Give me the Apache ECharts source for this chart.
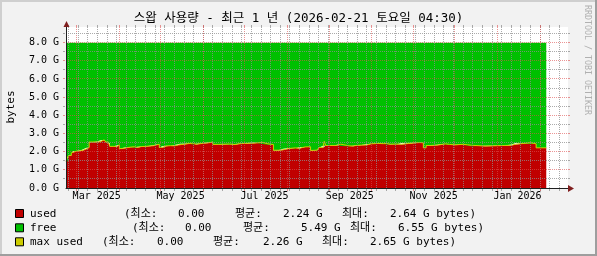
<!DOCTYPE html>
<html><head><meta charset="utf-8">
<script src="https://cdn.jsdelivr.net/npm/echarts@6/dist/echarts.min.js"></script>
<style>html,body{margin:0;padding:0;background:#f2f2f2}#c{width:597px;height:256px}</style>
</head><body><div id="c"></div>
<script>
// ---------------- data ----------------
const titleText = '스왑 사용량 - 최근 1 년 (2026-02-21 토요일 04:30)';
const yAxisName = 'bytes';
const watermark = 'RRDTOOL / TOBI OETIKER';
const timeStart = '2025-02-21 04:30';
const timeEnd = '2026-02-21 04:30';

const dates = [
 '2025-02-21 04:30','2025-02-22','2025-02-23','2025-02-25','2025-02-26',
 '2025-03-01','2025-03-04','2025-03-06','2025-03-08','2025-03-10','2025-03-15','2025-03-18','2025-03-19','2025-03-21','2025-03-22','2025-03-24','2025-03-25','2025-03-28','2025-03-30',
 '2025-04-01','2025-04-03','2025-04-06','2025-04-09','2025-04-12','2025-04-14','2025-04-17','2025-04-20','2025-04-23','2025-04-26','2025-04-28','2025-04-30',
 '2025-05-02','2025-05-05','2025-05-08','2025-05-11','2025-05-14','2025-05-15','2025-05-22','2025-05-24','2025-05-27','2025-05-30',
 '2025-06-01','2025-06-05','2025-06-08','2025-06-12','2025-06-17','2025-06-20','2025-06-24','2025-06-27','2025-06-30',
 '2025-07-08','2025-07-14','2025-07-18','2025-07-22','2025-07-26','2025-07-29',
 '2025-08-02','2025-08-07','2025-08-10','2025-08-14','2025-08-18','2025-08-20','2025-08-23','2025-08-24','2025-08-27','2025-08-28','2025-08-29',
 '2025-09-05','2025-09-07','2025-09-09','2025-09-15','2025-09-18','2025-09-20','2025-09-24','2025-09-28',
 '2025-10-01','2025-10-06','2025-10-10','2025-10-12','2025-10-15','2025-10-19','2025-10-23',
 '2025-11-03','2025-11-05','2025-11-08','2025-11-10','2025-11-13','2025-11-18','2025-11-21','2025-11-24','2025-11-27',
 '2025-12-01','2025-12-04','2025-12-07','2025-12-10','2025-12-13','2025-12-23',
 '2026-01-06','2026-01-11','2026-01-14','2026-01-25','2026-01-29',
 '2026-02-05 09:00'
];
// GB
const used = [
 1.45,1.62,1.78,1.92,2.02,
 2.04,2.08,2.14,2.22,2.52,2.54,2.60,2.64,2.60,2.52,2.48,2.28,2.27,2.37,
 2.16,2.20,2.24,2.26,2.22,2.27,2.28,2.30,2.32,2.36,2.40,2.22,
 2.30,2.32,2.31,2.36,2.42,2.44,2.45,2.40,2.43,2.45,
 2.48,2.52,2.39,2.40,2.41,2.38,2.42,2.44,2.46,
 2.50,2.42,2.38,2.07,2.09,2.16,
 2.20,2.18,2.25,2.26,2.06,2.08,2.14,2.22,2.33,2.33,2.33,
 2.35,2.40,2.31,2.30,2.33,2.35,2.36,2.42,
 2.44,2.43,2.44,2.40,2.41,2.40,2.48,
 2.49,2.48,2.20,2.33,2.35,2.38,2.42,2.39,2.36,
 2.38,2.39,2.37,2.34,2.30,2.33,
 2.34,2.40,2.48,2.42,2.20,
 2.20
];
const free = [
 6.55,6.38,6.22,6.08,5.98,
 5.96,5.92,5.86,5.78,5.48,5.46,5.40,5.36,5.40,5.48,5.52,5.72,5.73,5.63,
 5.84,5.80,5.76,5.74,5.78,5.73,5.72,5.70,5.68,5.64,5.60,5.78,
 5.70,5.68,5.69,5.64,5.58,5.56,5.55,5.60,5.57,5.55,
 5.52,5.48,5.61,5.60,5.59,5.62,5.58,5.56,5.54,
 5.50,5.58,5.62,5.93,5.91,5.84,
 5.80,5.82,5.75,5.74,5.94,5.92,5.86,5.78,5.67,5.67,5.67,
 5.65,5.60,5.69,5.70,5.67,5.65,5.64,5.58,
 5.56,5.57,5.56,5.60,5.59,5.60,5.52,
 5.51,5.52,5.80,5.67,5.65,5.62,5.58,5.61,5.64,
 5.62,5.61,5.63,5.66,5.70,5.67,
 5.66,5.60,5.52,5.58,5.80,
 5.80
];
const maxUsed = [
 1.46,1.63,1.79,1.93,2.03,
 2.05,2.09,2.15,2.23,2.53,2.55,2.61,2.65,2.61,2.53,2.49,2.29,2.28,2.38,
 2.17,2.21,2.25,2.27,2.23,2.28,2.29,2.31,2.33,2.37,2.41,2.23,
 2.31,2.33,2.32,2.37,2.43,2.45,2.46,2.41,2.44,2.46,
 2.49,2.53,2.40,2.41,2.42,2.39,2.43,2.45,2.47,
 2.51,2.43,2.39,2.08,2.10,2.17,
 2.21,2.19,2.26,2.27,2.07,2.09,2.15,2.23,2.34,2.57,2.34,
 2.36,2.41,2.32,2.31,2.34,2.36,2.37,2.43,
 2.45,2.44,2.45,2.41,2.42,2.41,2.49,
 2.50,2.49,2.21,2.34,2.36,2.39,2.43,2.40,2.37,
 2.39,2.40,2.38,2.35,2.31,2.34,
 2.35,2.41,2.49,2.43,2.21,
 2.21
];

const monthStarts = ['2025-03-01 00:00','2025-04-01 00:00','2025-05-01 00:00','2025-06-01 00:00','2025-07-01 00:00','2025-08-01 00:00','2025-09-01 00:00','2025-10-01 00:00','2025-11-01 00:00','2025-12-01 00:00','2026-01-01 00:00','2026-02-01 00:00'];
const firstWeekLine = '2025-02-23 00:00';
const xLabelDates = ['2025-03-15 12:00','2025-05-15 12:00','2025-07-15 12:00','2025-09-15 12:00','2025-11-15 12:00','2026-01-15 12:00'];
const xLabels = ['Mar 2025','May 2025','Jul 2025','Sep 2025','Nov 2025','Jan 2026'];
const yTicks = [0,1,2,3,4,5,6,7,8];
const yMinorTicks = [0.5,1.5,2.5,3.5,4.5,5.5,6.5,7.5,8.5];
const yMax = 8.86;

const legendNames = ['used','free','max used'];
const legendStats = [
 ['(최소:','0.00','평균:','2.24 G','최대:','2.64 G bytes)'],
 ['(최소:','0.00','평균:','5.49 G','최대:','6.55 G bytes)'],
 ['(최소:','0.00','평균:','2.26 G','최대:','2.65 G bytes)']
];

// ---------------- layout / style ----------------
const COL_USED = '#c00000', COL_FREE = '#00c000', COL_MAX = '#cccc00';
const MONO = "'DejaVu Sans Mono','Noto Sans CJK KR',monospace";
const MINOR = 'rgba(143,143,143,0.75)', MAJOR = 'rgba(222,79,79,0.6)';
const legendRowY = [214, 228.3, 242.3];
const legendColX = [
 [124,178,235,283,342,390],
 [132,185,243,301,350,398],
 [102,157,213,263,322,370]
];
const legendColors = [COL_USED, COL_FREE, COL_MAX];

const P = s => echarts.time.parse(s).getTime();
const tStart = P(timeStart), tEnd = P(timeEnd);
const weekLines = [];
for (let t = P(firstWeekLine); t < tEnd; t += 7*86400000) weekLines.push(t);
const xLabelTs = xLabelDates.map(P);

// grid line data: [value, kind] kind 0 = minor, 1 = major
const vGrid = weekLines.map(t => [t, 0]).concat(monthStarts.map(s => [P(s), 1]));
const hGrid = yMinorTicks.map(v => [tStart, v, 0]).concat(yTicks.slice(1).map(v => [tStart, v, 1]));

function vGridItem(params, api) {
  const cs = params.coordSys;
  const x = Math.floor(api.coord([api.value(0), 0])[0]) + 0.5;
  const c = api.value(1) === 1 ? MAJOR : MINOR;
  const top = cs.y, bot = cs.y + cs.height;
  return {type: 'group', children: [
    {type: 'line', shape: {x1: x, y1: top, x2: x, y2: bot}, style: {stroke: c, lineWidth: 1, lineDash: [1, 1]}},
    {type: 'line', shape: {x1: x, y1: bot + 1, x2: x, y2: bot + 3}, style: {stroke: c, lineWidth: 1}},
    {type: 'line', shape: {x1: x, y1: top - 2, x2: x, y2: top}, style: {stroke: c, lineWidth: 1}}
  ]};
}
function hGridItem(params, api) {
  const cs = params.coordSys;
  const y = Math.floor(api.coord([api.value(0), api.value(1)])[1]) + 0.5;
  const c = api.value(2) === 1 ? MAJOR : MINOR;
  const l = cs.x, r = cs.x + cs.width;
  return {type: 'group', children: [
    {type: 'line', shape: {x1: l, y1: y, x2: r, y2: y}, style: {stroke: c, lineWidth: 1, lineDash: [1, 1]}},
    {type: 'line', shape: {x1: l - 3, y1: y, x2: l - 1, y2: y}, style: {stroke: c, lineWidth: 1}},
    {type: 'line', shape: {x1: r, y1: y, x2: r + 2, y2: y}, style: {stroke: c, lineWidth: 1}}
  ]};
}

const graphics = [
 {type:'rect', shape:{x:0,y:0,width:597,height:2}, style:{fill:'#cfcfcf'}, z:0},
 {type:'rect', shape:{x:0,y:0,width:2,height:256}, style:{fill:'#cfcfcf'}, z:0},
 {type:'rect', shape:{x:0,y:254,width:597,height:2}, style:{fill:'#9e9e9e'}, z:0},
 {type:'rect', shape:{x:595,y:0,width:2,height:256}, style:{fill:'#9e9e9e'}, z:0},
 {type:'text', x:11, y:107, rotation:Math.PI/2, style:{text:yAxisName, font:'11px '+MONO, fill:'#000', align:'center', verticalAlign:'middle'}},
 {type:'text', x:587.5, y:60, rotation:-Math.PI/2, style:{text:watermark, font:'8.3px '+MONO, fill:'#b0b0b0', align:'center', verticalAlign:'middle'}},
 {type:'line', shape:{x1:566,y1:188.5,x2:570,y2:188.5}, style:{stroke:'#1f1f1f', lineWidth:1}, z:20},
 {type:'polygon', shape:{points:[[568,185],[574,188.5],[568,192]]}, style:{fill:'#801f1f'}, z:20},
 {type:'polygon', shape:{points:[[63.5,27],[66.5,21],[69.5,27]]}, style:{fill:'#801f1f'}, z:20}
];
legendNames.forEach((n, i) => {
  const y = legendRowY[i];
  graphics.push({type:'rect', shape:{x:15.5,y:y-4.5,width:8,height:8}, style:{fill:legendColors[i], stroke:'#000', lineWidth:1}});
  graphics.push({type:'text', x:30, y:y, style:{text:n, font:'11px '+MONO, fill:'#000', verticalAlign:'middle'}});
  legendStats[i].forEach((s, j) => {
    graphics.push({type:'text', x:legendColX[i][j], y:y, style:{text:s, font:'11px '+MONO, fill:'#000', verticalAlign:'middle'}});
  });
});

const chart = echarts.init(document.getElementById('c'), null, {renderer:'canvas', width:597, height:256});
chart.setOption({
  animation: false,
  backgroundColor: '#f2f2f2',
  title: {text: titleText, left: 'center', top: 12, padding: 0,
          textStyle: {fontFamily: MONO, fontSize: 12.5, fontWeight: 'normal', color: '#000'}},
  grid: {left: 66, right: 29, top: 27, bottom: 68, show: true, backgroundColor: '#ffffff', borderWidth: 0},
  xAxis: [{
    type: 'time', min: tStart, max: tEnd,
    axisLine: {show: true, lineStyle: {color: '#1f1f1f', width: 1}},
    axisTick: {show: false},
    splitLine: {show: false},
    axisLabel: {show: false},
    z: 15
  }, {
    type: 'value', min: tStart, max: tEnd, position: 'bottom', offset: 0,
    axisLine: {show: false}, axisTick: {show: false}, splitLine: {show: false},
    axisLabel: {customValues: xLabelTs, margin: 3, fontFamily: MONO, fontSize: 10, color: '#000',
      formatter: v => { const k = xLabelTs.indexOf(v); return k >= 0 ? xLabels[k] : ''; }, hideOverlap: false}
  }],
  yAxis: {
    type: 'value', min: 0, max: yMax,
    axisLine: {show: true, lineStyle: {color: '#1f1f1f', width: 1}},
    axisTick: {show: false},
    splitLine: {show: false},
    axisLabel: {customValues: yTicks, margin: 7, fontFamily: MONO, fontSize: 10, color: '#000',
      formatter: v => v.toFixed(1) + ' G'},
    z: 15
  },
  graphic: graphics,
  series: [
    {name: 'used', type: 'line', step: 'end', stack: 's', symbol: 'none', z: 2,
     data: dates.map((d, i) => [d, used[i]]), lineStyle: {width: 0}, areaStyle: {color: COL_USED, opacity: 1}},
    {name: 'free', type: 'line', step: 'end', stack: 's', symbol: 'none', z: 2,
     data: dates.map((d, i) => [d, free[i]]), lineStyle: {width: 0}, areaStyle: {color: COL_FREE, opacity: 1}},
    {name: 'max used', type: 'line', step: 'end', symbol: 'none', z: 4,
     data: dates.map((d, i) => [d, maxUsed[i]]), lineStyle: {width: 1, color: COL_MAX}},
    {name: 'vgrid', type: 'custom', z: 6, silent: true, clip: false, renderItem: vGridItem, data: vGrid},
    {name: 'hgrid', type: 'custom', z: 6, silent: true, clip: false, renderItem: hGridItem, data: hGrid}
  ]
});
</script></body></html>
